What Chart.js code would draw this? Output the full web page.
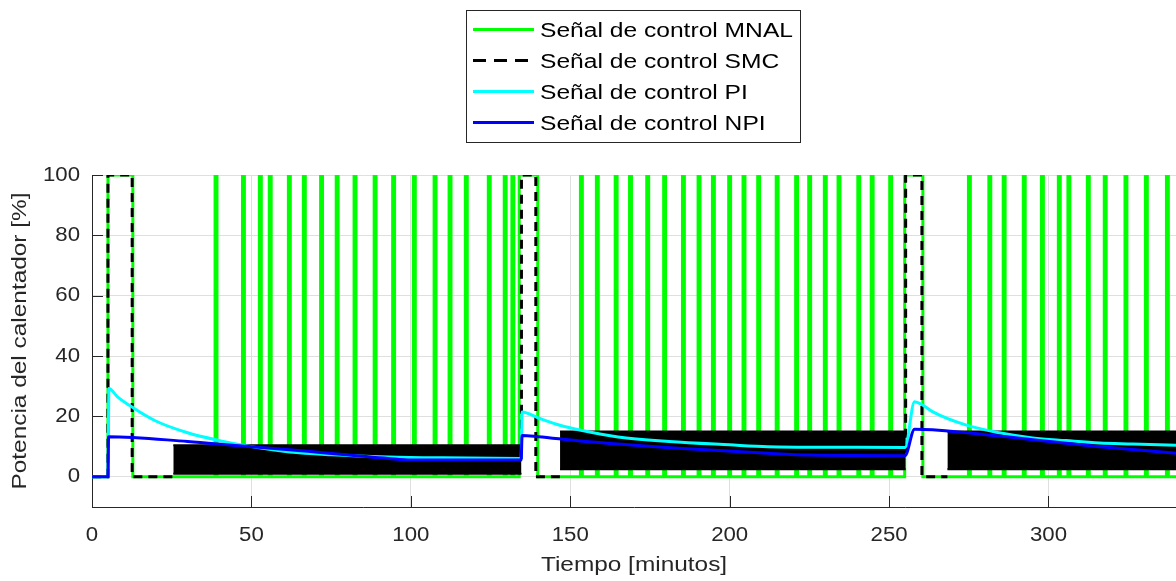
<!DOCTYPE html>
<html>
<head>
<meta charset="utf-8">
<script src="https://cdn.jsdelivr.net/npm/chart.js@4/dist/chart.umd.min.js"></script>
<style>
  body { margin: 0; background: #fff; }
  #wrap { width: 1176px; height: 581px; }
</style>
</head>
<body>
<div id="wrap"><canvas id="potencia"></canvas></div>
<script>
// ejes (tiempo en minutos, potencia en %)
var xTicks = [0, 50, 100, 150, 200, 250, 300];
var yTicks = [0, 20, 40, 60, 80, 100];
var xTitle = 'Tiempo [minutos]';
var yTitle = 'Potencia del calentador [%]';

var labels = ['Señal de control MNAL', 'Señal de control SMC', 'Señal de control PI', 'Señal de control NPI'];

// MNAL: saturaciones largas al 100 % y pulsos cortos
var mnalBlockStart = [5, 134, 254.9];
var mnalBlockEnd = [12.8, 139.8, 260.6];
var mnalPulseStart = [38.6, 47.2, 52.5, 55.6, 61.6, 66.3, 71.7, 76.6, 82.2, 88.5,
                      94.3, 100.8, 107.3, 112.0, 117.1, 124.3, 129.3, 131.7,
                      153.2, 158.2, 164.1, 168.6, 174.0, 179.3, 185.2, 190.1, 194.6,
                      199.7, 204.2, 208.8, 214.6, 220.7, 224.8, 229.7, 234.0, 240.2,
                      244.4, 250.2, 274.9, 281.3, 285.8, 292.1, 297.8, 303.1, 306.1,
                      312.2, 317.5, 324.0, 330.4, 337.0];
var mnalPulseLength = 0.6;

// SMC: tramos fuera de la conmutación
var smcTime  = [0, 5, 5, 12.6, 12.6, 25.5, 26, 134.7, 134.7, 139.2, 139.2, 146.8, 147, 255.2, 255.2, 260.3, 260.3, 268.3];
var smcValue = [0, 0, 100, 100, 0, 0, null, 6, 100, 100, 0, 0, null, 8, 100, 100, 0, 0];
// SMC: banda de conmutación rápida
var smcBandStart = [25.5, 146.8, 268.3];
var smcBandEnd   = [134.7, 255.2, 340];
var smcBandLow   = [1, 2.5, 2.5];
var smcBandHigh  = [10.5, 15, 15];

// PI
var piTime  = [0, 5, 5.3, 8, 13, 20, 30, 40, 50, 62, 75, 93, 110, 134.6,
               134.9, 140, 147, 153, 165, 181, 200, 212, 235, 255,
               258, 260.5, 263.6, 274, 284.6, 295, 305.5, 316, 326.4, 340];
var piValue = [0, 0, 29.3, 26.5, 22.8, 18.5, 14.6, 12, 10, 8.2, 7.3, 6.6, 6.3, 6.1,
               21.5, 19.5, 17, 15.5, 13.2, 11.7, 10.6, 10, 9.8, 9.7,
               24.9, 23.8, 21.6, 17.2, 14.6, 12.9, 12, 11.2, 10.9, 10.5];

// NPI
var npiTime  = [0, 5, 5.2, 30, 46, 62, 93, 100, 134.6,
                134.9, 140, 153, 184, 212, 225, 255,
                258, 263.6, 295, 316, 340];
var npiValue = [0, 0, 13.3, 11.7, 10.3, 9, 6.1, 5.6, 5.6,
                13.7, 13.3, 11.9, 9.5, 7.8, 7.2, 7,
                15.8, 15.6, 12.3, 10, 7.8];

function toPoints(xs, ys) {
    return xs.map(function(x, i) { return {x: x, y: ys[i]}; });
}

function mnalPoints() {
    var on = [];
    mnalBlockStart.forEach(function(s, i) { on.push([s, mnalBlockEnd[i]]); });
    mnalPulseStart.forEach(function(s) { on.push([s, s + mnalPulseLength]); });
    on.sort(function(a, b) { return a[0] - b[0]; });
    var pts = [{x: 0, y: 0}];
    on.forEach(function(p) {
        pts.push({x: p[0], y: 0}, {x: p[0], y: 100}, {x: p[1], y: 100}, {x: p[1], y: 0});
    });
    pts.push({x: 340, y: 0});
    return pts;
}

var axisColor = '#262626';
var font = "'Liberation Sans', Arial, Helvetica, sans-serif";

var datasets = [
    {label: labels[0], data: mnalPoints(), borderColor: '#00ff00', borderWidth: 3, order: 5},
    {label: labels[1], data: toPoints(smcTime, smcValue), borderColor: '#000000', borderWidth: 3,
     borderDash: [9, 6], order: 4, legendDash: [13, 8]},
    {label: labels[2], data: toPoints(piTime, piValue), borderColor: '#00ffff', borderWidth: 3, order: 2,
     cubicInterpolationMode: 'monotone'},
    {label: labels[3], data: toPoints(npiTime, npiValue), borderColor: '#0000ff', borderWidth: 3, order: 1,
     cubicInterpolationMode: 'monotone'}
];

// banda SMC: borde inferior y superior rellenados entre sí
smcBandStart.forEach(function(s, i) {
    var e = smcBandEnd[i];
    datasets.push({data: [{x: s, y: smcBandLow[i]}, {x: e, y: smcBandLow[i]}],
                   borderColor: '#000', borderWidth: 2, order: 3, fill: false});
    datasets.push({data: [{x: s, y: smcBandHigh[i]}, {x: e, y: smcBandHigh[i]}],
                   borderColor: '#000', borderWidth: 2, backgroundColor: '#000', order: 3, fill: '-1'});
});

// texto ensanchado horizontalmente
function wideText(ctx, text, x, y, sx, align, angle) {
    ctx.save();
    ctx.translate(x, y);
    if (angle) ctx.rotate(angle);
    ctx.scale(sx, 1);
    ctx.textAlign = align;
    ctx.textBaseline = 'middle';
    ctx.fillText(text, 0, 0);
    ctx.restore();
}

// marcas hacia dentro, etiquetas y títulos de los ejes
var axesText = {
    id: 'axesText',
    afterDraw: function(chart) {
        var ctx = chart.ctx, area = chart.chartArea;
        var sx = chart.scales.x, sy = chart.scales.y;
        ctx.save();
        ctx.strokeStyle = axisColor;
        ctx.lineWidth = 1;
        ctx.beginPath();
        sx.ticks.forEach(function(t) {
            var px = Math.round(sx.getPixelForValue(t.value)) + 0.5;
            ctx.moveTo(px, area.bottom);
            ctx.lineTo(px, area.bottom - 11);
        });
        sy.ticks.forEach(function(t) {
            var py = Math.round(sy.getPixelForValue(t.value)) + 0.5;
            ctx.moveTo(area.left, py);
            ctx.lineTo(area.left + 11, py);
        });
        ctx.stroke();

        ctx.fillStyle = axisColor;
        ctx.font = '20px ' + font;
        sx.ticks.forEach(function(t) {
            wideText(ctx, String(t.value), sx.getPixelForValue(t.value), area.bottom + 28, 1.11, 'center');
        });
        sy.ticks.forEach(function(t) {
            wideText(ctx, String(t.value), area.left - 12, sy.getPixelForValue(t.value), 1.11, 'right');
        });
        wideText(ctx, xTitle, (area.left + area.right) / 2, 565, 1.22, 'center');
        wideText(ctx, yTitle, 20, (area.top + area.bottom) / 2, 1.22, 'center', -Math.PI / 2);
        ctx.restore();
    }
};

// leyenda en recuadro sobre el gráfico
var legendBox = {
    id: 'legendBox',
    afterDraw: function(chart) {
        var ctx = chart.ctx;
        var items = chart.data.datasets.filter(function(ds) { return ds.label; });
        ctx.save();
        ctx.fillStyle = '#fff';
        ctx.fillRect(466.5, 10.5, 334, 132);
        ctx.strokeStyle = axisColor;
        ctx.lineWidth = 1;
        ctx.strokeRect(466.5, 10.5, 334, 132);
        ctx.font = '20px ' + font;
        items.forEach(function(ds, i) {
            var y = 29.5 + i * 31;
            ctx.beginPath();
            ctx.strokeStyle = ds.borderColor;
            ctx.lineWidth = 3;
            ctx.setLineDash(ds.legendDash || []);
            ctx.moveTo(473, y);
            ctx.lineTo(534, y);
            ctx.stroke();
            ctx.setLineDash([]);
            ctx.fillStyle = '#000';
            wideText(ctx, ds.label, 540, y + 2, 1.23, 'left');
        });
        ctx.restore();
    }
};

var ctx = document.getElementById('potencia').getContext('2d');

var chart = new Chart(ctx, {
    type: 'line',
    data: {datasets: datasets},
    options: {
        responsive: true,
        maintainAspectRatio: false,
        devicePixelRatio: 1,
        animation: false,
        layout: {padding: {top: 175, right: 0, left: 0, bottom: 0}},
        elements: {point: {radius: 0}, line: {tension: 0}},
        plugins: {legend: {display: false}, tooltip: {enabled: false}},
        scales: {
            x: {
                type: 'linear',
                min: 0,
                max: 340,
                afterBuildTicks: function(scale) {
                    scale.ticks = xTicks.map(function(v) { return {value: v}; });
                },
                afterFit: function(scale) { scale.height = 74; },
                grid: {color: '#dfdfdf', drawTicks: false},
                border: {color: axisColor, width: 1},
                ticks: {display: false}
            },
            y: {
                type: 'linear',
                min: -10,
                max: 100,
                afterBuildTicks: function(scale) {
                    scale.ticks = yTicks.map(function(v) { return {value: v}; });
                },
                afterFit: function(scale) { scale.width = 92; },
                grid: {color: '#dfdfdf', drawTicks: false},
                border: {color: axisColor, width: 1},
                ticks: {display: false}
            }
        }
    },
    plugins: [axesText, legendBox]
});
</script>
</body>
</html>
